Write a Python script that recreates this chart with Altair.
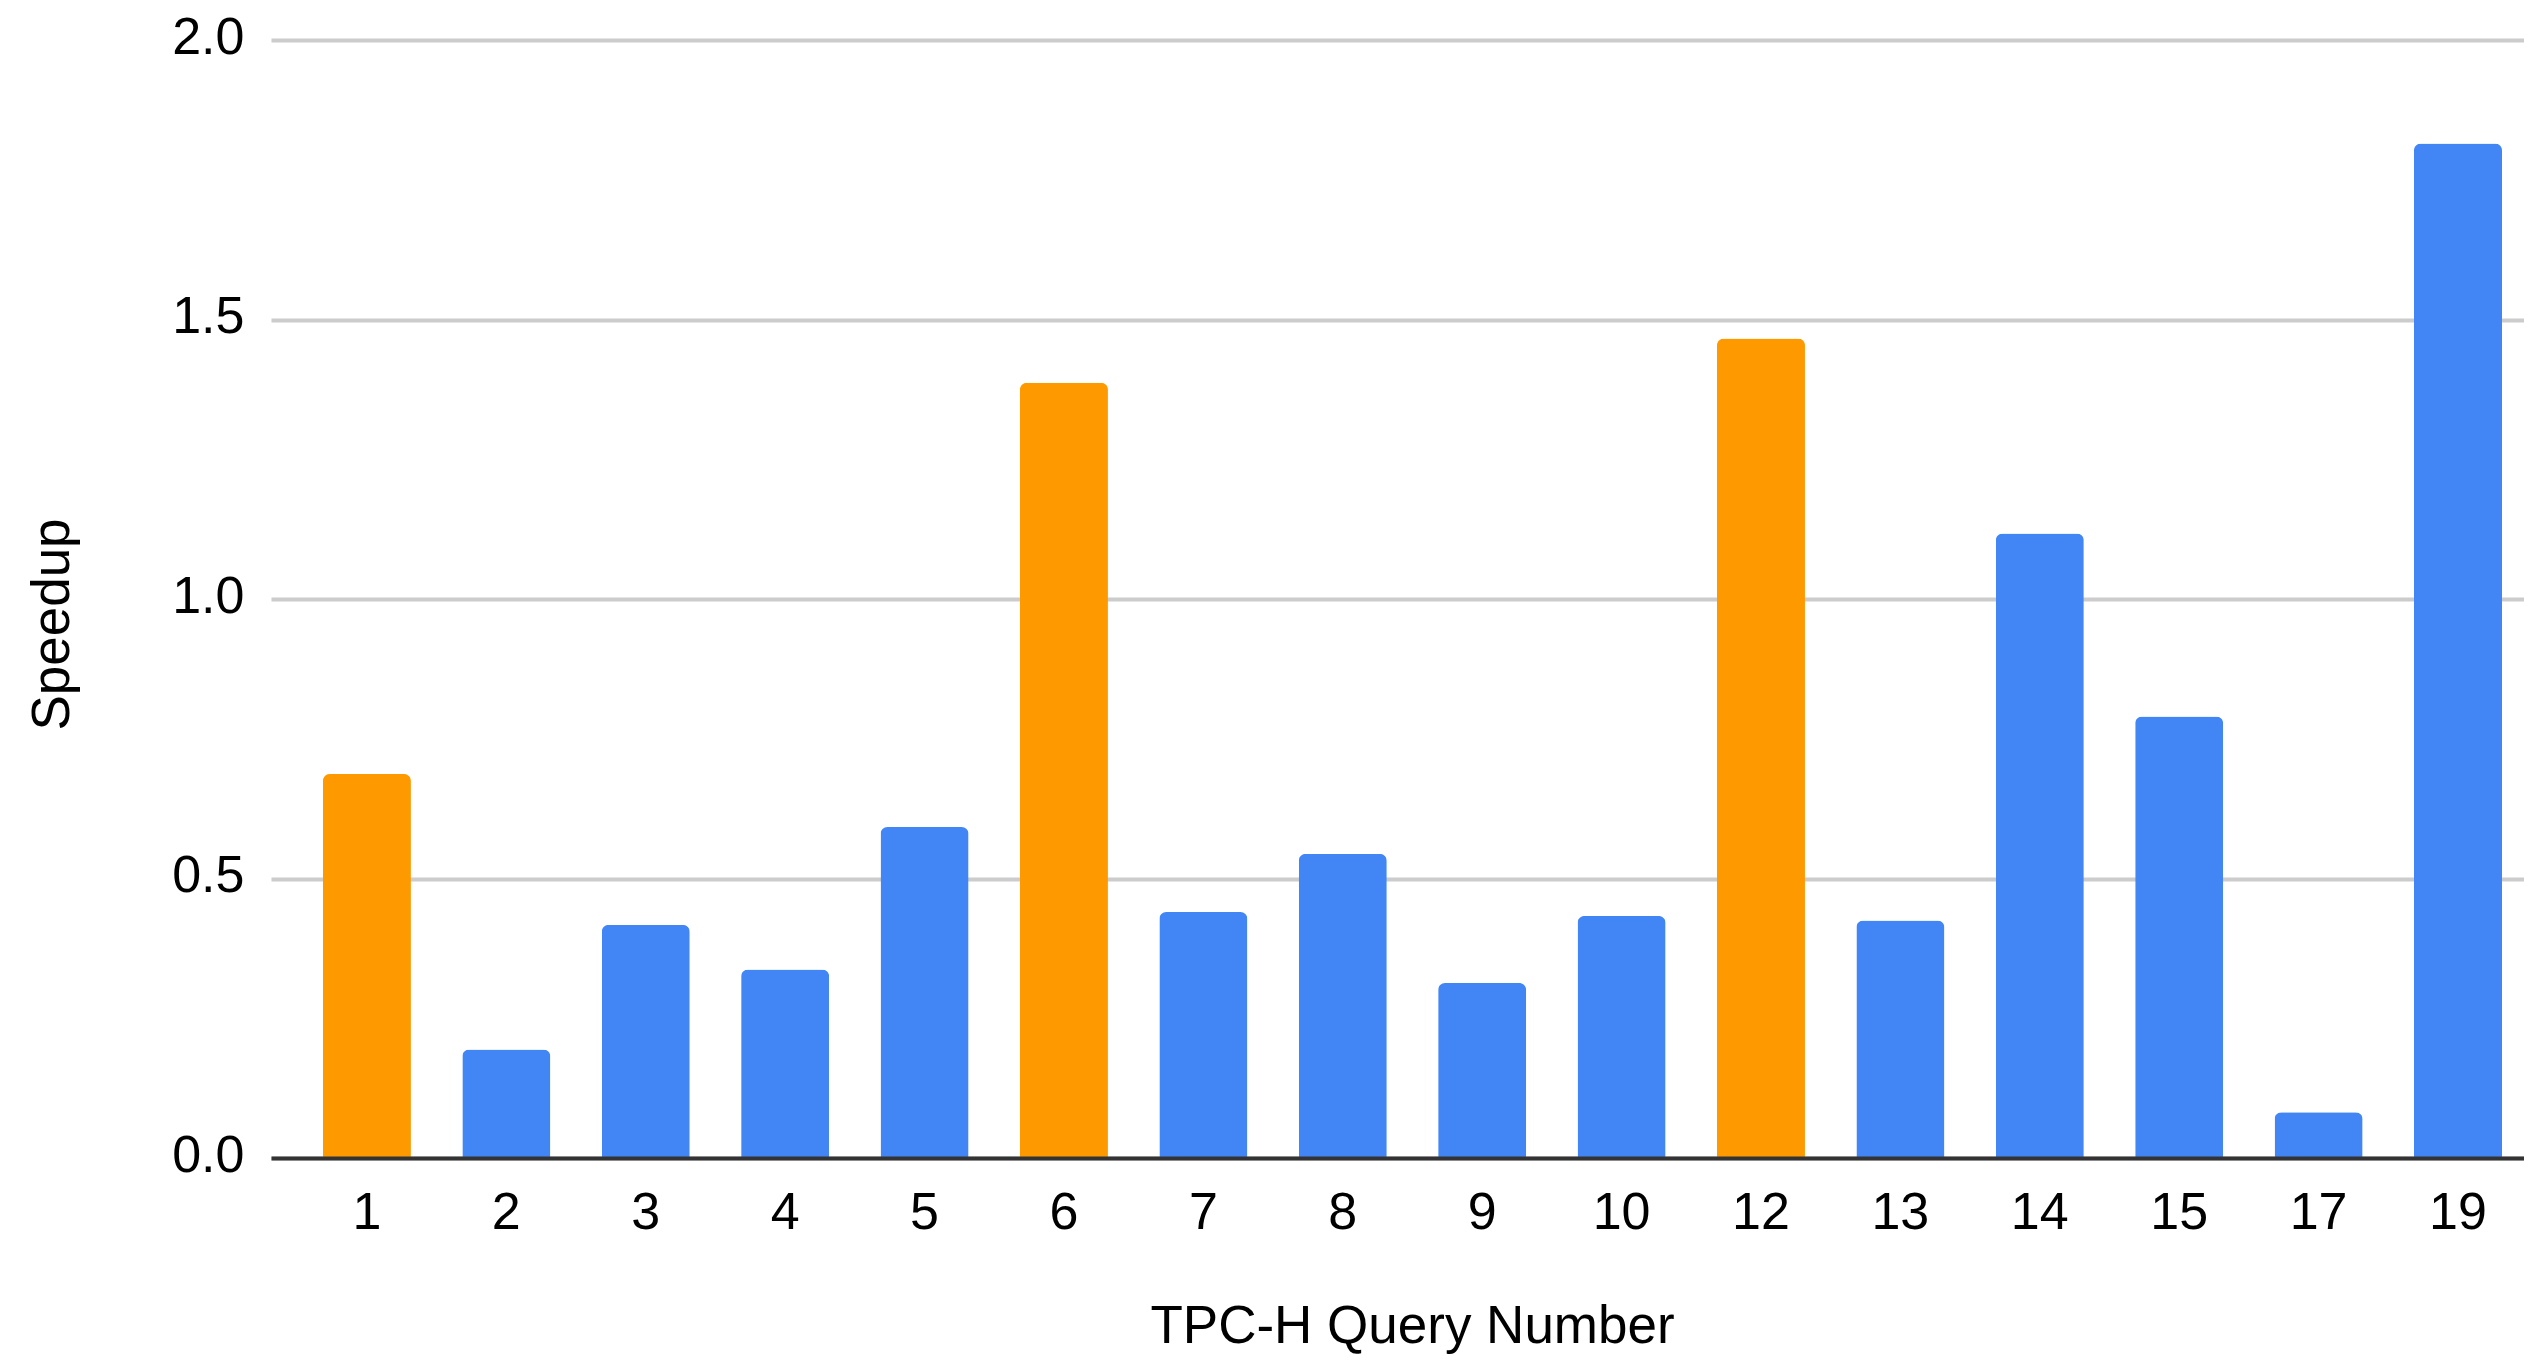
import altair as alt
import pandas as pd

queries = ["1", "2", "3", "4", "5", "6", "7", "8", "9", "10", "12", "13", "14", "15", "17", "19"]
speedup = [0.687, 0.194, 0.417, 0.337, 0.592, 1.387, 0.440, 0.544, 0.313, 0.433,
           1.466, 0.425, 1.117, 0.790, 0.082, 1.815]
highlighted = ["1", "6", "12"]
groups = ["highlight", "other"]
colors = ["#FF9900", "#4285F4"]
y_ticks = [0, 0.5, 1.0, 1.5, 2.0]

df = pd.DataFrame({
    "query": queries,
    "speedup": speedup,
    "group": ["highlight" if q in highlighted else "other" for q in queries],
})

FONT = "Liberation Sans"

chart = alt.Chart(df).mark_bar(
    cornerRadiusTopLeft=7, cornerRadiusTopRight=7
).encode(
    x=alt.X(
        "query:N", sort=queries, title="TPC-H Query Number",
        scale=alt.Scale(paddingInner=0.3687, paddingOuter=0.2651, align=0.7023),
        axis=alt.Axis(
            labelAngle=0, labelFont=FONT, labelFontSize=52, labelColor="#000000",
            labelBaseline="alphabetic", labelPadding=70, ticks=False, tickSize=0,
            domainColor="#333333", domainWidth=4, grid=False,
            titleFont=FONT, titleFontSize=53, titleFontWeight="normal",
            titleColor="#000000", titleBaseline="alphabetic",
            titleX=1141, titleY=184, titleAlign="center", zindex=1,
        ),
    ),
    y=alt.Y(
        "speedup:Q", title="Speedup",
        scale=alt.Scale(domain=[0, 2], nice=False, zero=True),
        axis=alt.Axis(
            values=y_ticks, format=".1f", domain=False, ticks=False, tickSize=0,
            labelFont=FONT, labelFontSize=52, labelColor="#000000", labelPadding=27,
            labelOffset=-3,
            grid=True, gridColor="#cccccc", gridWidth=4,
            titleFont=FONT, titleFontSize=53, titleFontWeight="normal",
            titleColor="#000000", titleAngle=270, titleBaseline="alphabetic",
            titleAlign="center", titleX=-203, titleY=584, zindex=0,
        ),
    ),
    color=alt.Color("group:N", scale=alt.Scale(domain=groups, range=colors), legend=None),
).properties(
    width=2253,
    height=1118,
    autosize=alt.AutoSizeParams(type="none"),
    padding={"left": 263, "top": 32, "right": 0, "bottom": 196},
).configure_view(stroke=None)

chart.save("out.html", embed_options={"renderer": "svg", "actions": False})
